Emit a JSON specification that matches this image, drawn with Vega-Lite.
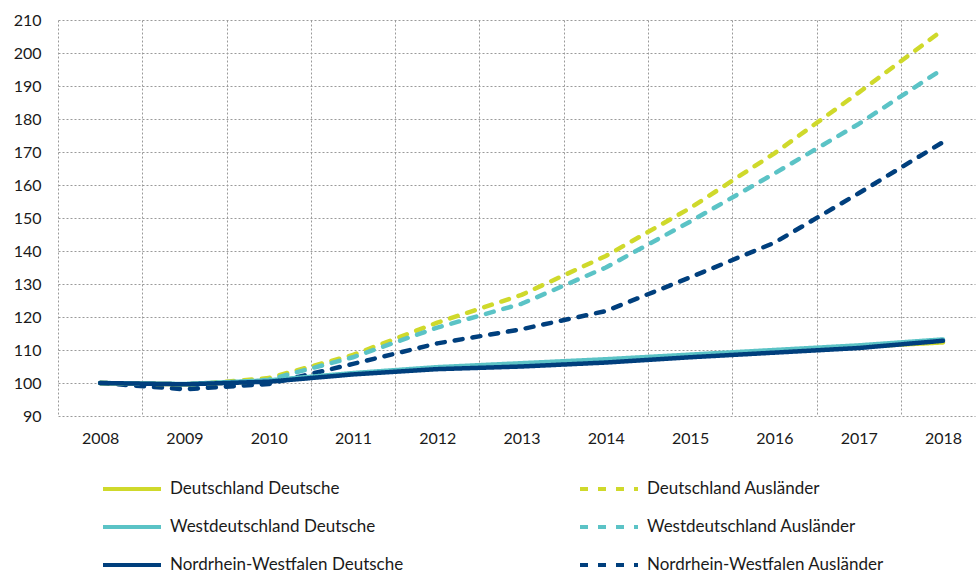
{
  "$schema": "https://vega.github.io/schema/vega-lite/v6.json",
  "width": 917,
  "height": 396,
  "autosize": {"type": "none"},
  "padding": {"left": 58, "top": 20, "right": 1, "bottom": 158},
  "config": {
    "view": {"stroke": null},
    "font": "Lato",
    "axis": {"labelFont": "Lato", "labelColor": "#1a1a1a", "labelFontSize": 16}
  },
  "data": {
    "values": [
      {"Reihe": "Deutschland Ausländer", "Jahr": 2008, "Index": 100},
      {"Reihe": "Deutschland Ausländer", "Jahr": 2009, "Index": 99.3},
      {"Reihe": "Deutschland Ausländer", "Jahr": 2010, "Index": 101.5},
      {"Reihe": "Deutschland Ausländer", "Jahr": 2011, "Index": 108.5},
      {"Reihe": "Deutschland Ausländer", "Jahr": 2012, "Index": 118.3},
      {"Reihe": "Deutschland Ausländer", "Jahr": 2013, "Index": 126.7},
      {"Reihe": "Deutschland Ausländer", "Jahr": 2014, "Index": 138.5},
      {"Reihe": "Deutschland Ausländer", "Jahr": 2015, "Index": 153},
      {"Reihe": "Deutschland Ausländer", "Jahr": 2016, "Index": 169.6},
      {"Reihe": "Deutschland Ausländer", "Jahr": 2017, "Index": 188},
      {"Reihe": "Deutschland Ausländer", "Jahr": 2018, "Index": 207},
      {"Reihe": "Westdeutschland Ausländer", "Jahr": 2008, "Index": 100},
      {"Reihe": "Westdeutschland Ausländer", "Jahr": 2009, "Index": 99.2},
      {"Reihe": "Westdeutschland Ausländer", "Jahr": 2010, "Index": 101},
      {"Reihe": "Westdeutschland Ausländer", "Jahr": 2011, "Index": 107.8},
      {"Reihe": "Westdeutschland Ausländer", "Jahr": 2012, "Index": 116.8},
      {"Reihe": "Westdeutschland Ausländer", "Jahr": 2013, "Index": 124},
      {"Reihe": "Westdeutschland Ausländer", "Jahr": 2014, "Index": 135},
      {"Reihe": "Westdeutschland Ausländer", "Jahr": 2015, "Index": 148.9},
      {"Reihe": "Westdeutschland Ausländer", "Jahr": 2016, "Index": 163.5},
      {"Reihe": "Westdeutschland Ausländer", "Jahr": 2017, "Index": 178.5},
      {"Reihe": "Westdeutschland Ausländer", "Jahr": 2018, "Index": 195.2},
      {"Reihe": "Nordrhein-Westfalen Ausländer", "Jahr": 2008, "Index": 100},
      {"Reihe": "Nordrhein-Westfalen Ausländer", "Jahr": 2009, "Index": 98.1},
      {"Reihe": "Nordrhein-Westfalen Ausländer", "Jahr": 2010, "Index": 99.7},
      {"Reihe": "Nordrhein-Westfalen Ausländer", "Jahr": 2011, "Index": 105.8},
      {"Reihe": "Nordrhein-Westfalen Ausländer", "Jahr": 2012, "Index": 112},
      {"Reihe": "Nordrhein-Westfalen Ausländer", "Jahr": 2013, "Index": 116.3},
      {"Reihe": "Nordrhein-Westfalen Ausländer", "Jahr": 2014, "Index": 121.8},
      {"Reihe": "Nordrhein-Westfalen Ausländer", "Jahr": 2015, "Index": 132},
      {"Reihe": "Nordrhein-Westfalen Ausländer", "Jahr": 2016, "Index": 142.5},
      {"Reihe": "Nordrhein-Westfalen Ausländer", "Jahr": 2017, "Index": 157.5},
      {"Reihe": "Nordrhein-Westfalen Ausländer", "Jahr": 2018, "Index": 173},
      {"Reihe": "Deutschland Deutsche", "Jahr": 2008, "Index": 100},
      {"Reihe": "Deutschland Deutsche", "Jahr": 2009, "Index": 99.6},
      {"Reihe": "Deutschland Deutsche", "Jahr": 2010, "Index": 100.6},
      {"Reihe": "Deutschland Deutsche", "Jahr": 2011, "Index": 102.8},
      {"Reihe": "Deutschland Deutsche", "Jahr": 2012, "Index": 104.4},
      {"Reihe": "Deutschland Deutsche", "Jahr": 2013, "Index": 105.6},
      {"Reihe": "Deutschland Deutsche", "Jahr": 2014, "Index": 106.8},
      {"Reihe": "Deutschland Deutsche", "Jahr": 2015, "Index": 108.2},
      {"Reihe": "Deutschland Deutsche", "Jahr": 2016, "Index": 109.6},
      {"Reihe": "Deutschland Deutsche", "Jahr": 2017, "Index": 111},
      {"Reihe": "Deutschland Deutsche", "Jahr": 2018, "Index": 112.3},
      {"Reihe": "Westdeutschland Deutsche", "Jahr": 2008, "Index": 100},
      {"Reihe": "Westdeutschland Deutsche", "Jahr": 2009, "Index": 99.7},
      {"Reihe": "Westdeutschland Deutsche", "Jahr": 2010, "Index": 100.8},
      {"Reihe": "Westdeutschland Deutsche", "Jahr": 2011, "Index": 103},
      {"Reihe": "Westdeutschland Deutsche", "Jahr": 2012, "Index": 104.8},
      {"Reihe": "Westdeutschland Deutsche", "Jahr": 2013, "Index": 106},
      {"Reihe": "Westdeutschland Deutsche", "Jahr": 2014, "Index": 107.2},
      {"Reihe": "Westdeutschland Deutsche", "Jahr": 2015, "Index": 108.6},
      {"Reihe": "Westdeutschland Deutsche", "Jahr": 2016, "Index": 110},
      {"Reihe": "Westdeutschland Deutsche", "Jahr": 2017, "Index": 111.4},
      {"Reihe": "Westdeutschland Deutsche", "Jahr": 2018, "Index": 113.2},
      {"Reihe": "Nordrhein-Westfalen Deutsche", "Jahr": 2008, "Index": 100},
      {"Reihe": "Nordrhein-Westfalen Deutsche", "Jahr": 2009, "Index": 99.6},
      {"Reihe": "Nordrhein-Westfalen Deutsche", "Jahr": 2010, "Index": 100.4},
      {"Reihe": "Nordrhein-Westfalen Deutsche", "Jahr": 2011, "Index": 102.6},
      {"Reihe": "Nordrhein-Westfalen Deutsche", "Jahr": 2012, "Index": 104.2},
      {"Reihe": "Nordrhein-Westfalen Deutsche", "Jahr": 2013, "Index": 105},
      {"Reihe": "Nordrhein-Westfalen Deutsche", "Jahr": 2014, "Index": 106.2},
      {"Reihe": "Nordrhein-Westfalen Deutsche", "Jahr": 2015, "Index": 107.8},
      {"Reihe": "Nordrhein-Westfalen Deutsche", "Jahr": 2016, "Index": 109.2},
      {"Reihe": "Nordrhein-Westfalen Deutsche", "Jahr": 2017, "Index": 110.6},
      {"Reihe": "Nordrhein-Westfalen Deutsche", "Jahr": 2018, "Index": 112.8}
    ]
  },
  "encoding": {
    "y": {
      "field": "Index",
      "type": "quantitative",
      "scale": {"domain": [90, 210], "nice": false, "zero": false},
      "axis": {
        "title": null,
        "values": [90, 100, 110, 120, 130, 140, 150, 160, 170, 180, 190, 200, 210],
        "labelPadding": 17,
        "domain": false,
        "ticks": false,
        "grid": true,
        "gridColor": "#9a9a9a",
        "gridDash": [2, 2],
        "gridWidth": 1
      }
    }
  },
  "layer": [
    {
      "mark": {"type": "line", "strokeWidth": 4.5, "strokeCap": "round", "strokeJoin": "round"},
      "encoding": {
        "x": {
          "field": "Jahr",
          "type": "quantitative",
          "scale": {"domain": [2007.5, 2018.38], "nice": false, "zero": false},
          "axis": {
            "title": null,
            "orient": "bottom",
            "values": [2007.5, 2008.5, 2009.5, 2010.5, 2011.5, 2012.5, 2013.5, 2014.5, 2015.5, 2016.5, 2017.5],
            "labels": false,
            "domain": false,
            "ticks": false,
            "grid": true,
            "gridColor": "#9a9a9a",
            "gridDash": [2, 2],
            "gridWidth": 1
          }
        },
        "color": {
          "field": "Reihe",
          "type": "nominal",
          "scale": {
            "domain": ["Deutschland Deutsche", "Deutschland Ausländer", "Westdeutschland Deutsche", "Westdeutschland Ausländer", "Nordrhein-Westfalen Deutsche", "Nordrhein-Westfalen Ausländer"],
            "range": ["#cfd92b", "#cfd92b", "#5bc3c6", "#5bc3c6", "#003f7d", "#003f7d"]
          },
          "legend": {
            "title": null,
            "orient": "none",
            "legendX": 43,
            "legendY": 459,
            "direction": "horizontal",
            "columns": 2,
            "columnPadding": 174,
            "rowPadding": 18,
            "clipHeight": 20,
            "symbolType": "stroke",
            "symbolSize": 3364,
            "symbolStrokeWidth": 4,
            "labelFont": "Lato",
            "labelFontSize": 17,
            "labelColor": "#1a1a1a",
            "labelOffset": 7,
            "labelLimit": 400,
            "padding": 0
          }
        },
        "strokeDash": {
          "field": "Reihe",
          "type": "nominal",
          "scale": {
            "domain": ["Deutschland Deutsche", "Deutschland Ausländer", "Westdeutschland Deutsche", "Westdeutschland Ausländer", "Nordrhein-Westfalen Deutsche", "Nordrhein-Westfalen Ausländer"],
            "range": [[1, 0], [8, 10], [1, 0], [8, 10], [1, 0], [8, 10]]
          },
          "legend": null
        }
      }
    },
    {
      "mark": {"type": "line", "opacity": 0},
      "encoding": {
        "x": {
          "field": "Jahr",
          "type": "quantitative",
          "axis": {
            "title": null,
            "orient": "bottom",
            "values": [2008, 2009, 2010, 2011, 2012, 2013, 2014, 2015, 2016, 2017, 2018],
            "format": "d",
            "labelOverlap": false,
            "labelFlush": false,
            "labelPadding": 14,
            "domain": false,
            "ticks": false,
            "grid": false
          }
        },
        "detail": {"field": "Reihe", "type": "nominal"}
      }
    }
  ],
  "resolve": {"axis": {"x": "independent"}}
}
